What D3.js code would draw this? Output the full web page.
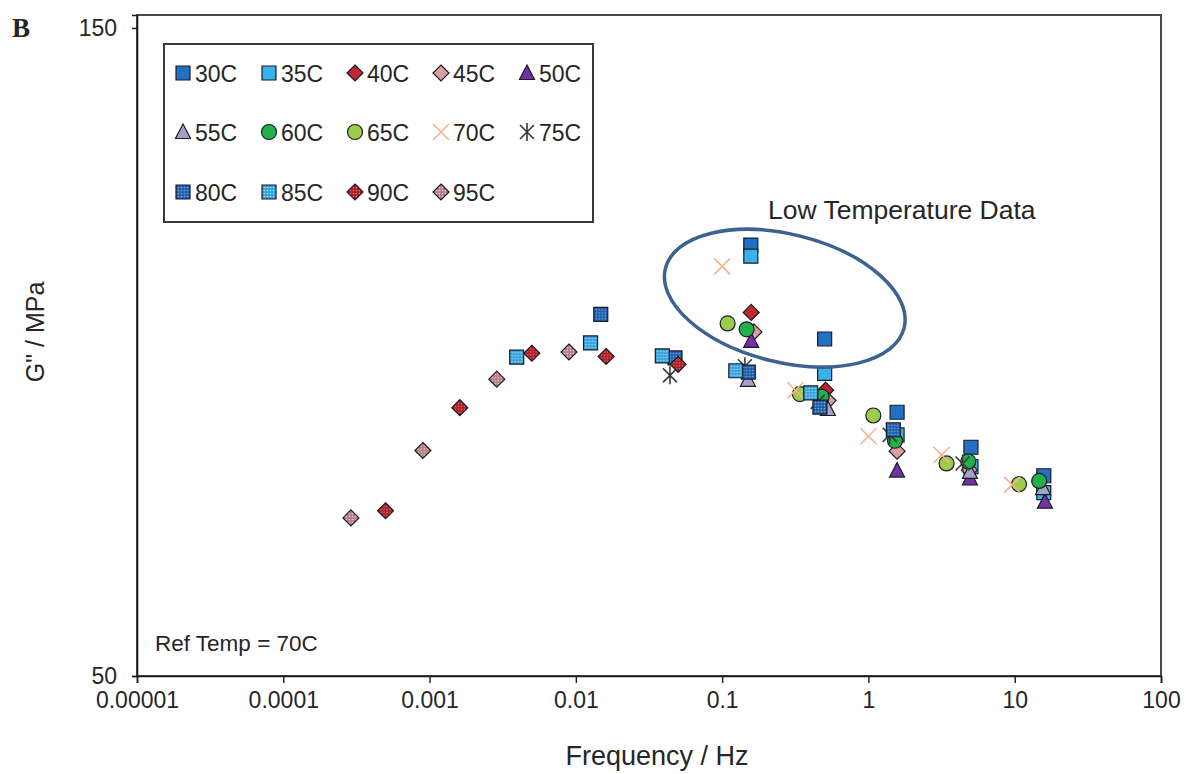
<!DOCTYPE html>
<html>
<head>
<meta charset="utf-8">
<script src="https://cdn.jsdelivr.net/npm/d3@7/dist/d3.min.js"></script>
<style>
  html, body { margin: 0; padding: 0; background: #fff; }
  svg { display: block; }
  text { font-family: "Liberation Sans", Arial, sans-serif; fill: #262626; }
</style>
</head>
<body>
<svg id="chart" width="1186" height="774"></svg>
<script>
// ---- data: frequency (Hz) and loss modulus G'' (MPa) per test temperature ----
const temps = ["30C","35C","40C","45C","50C","55C","60C","65C","70C","75C","80C","85C","90C","95C"];

const freq30 = [0.157, 0.502, 1.57, 5.02, 15.8];
const g30    = [116.5, 102.0, 90.7, 85.3, 80.9];
const freq35 = [0.157, 0.502, 1.57, 5.02, 15.8];
const g35    = [114.8, 96.7, 87.2, 82.3, 78.3];
const freq40 = [0.158, 0.51];
const g40    = [106.1, 94.1];
const freq45 = [0.165, 0.53, 1.57, 4.9];
const g45    = [103.1, 92.5, 84.7, 81.8];
const freq50 = [0.158, 1.57, 4.94, 16.1];
const g50    = [101.7, 81.7, 80.5, 76.9];
const freq55 = [0.150, 0.528, 4.94, 15.6];
const g55    = [95.7, 91.2, 81.5, 79.0];
const freq60 = [0.147, 0.479, 1.52, 4.81, 14.7];
const g60    = [103.5, 93.1, 86.3, 83.1, 80.1];
const freq65 = [0.109, 0.340, 1.08, 3.42, 10.7];
const g65    = [104.4, 93.5, 90.2, 82.8, 79.6];
const freq70 = [0.1, 0.317, 1.0, 3.16, 9.6];
const g70    = [113.2, 94.1, 87.0, 84.1, 79.5];
const freq75 = [0.044, 0.143, 0.45, 1.40, 4.4];
const g75    = [96.4, 97.8, 92.3, 87.2, 82.8];
const freq80 = [0.0148, 0.0476, 0.151, 0.466, 1.48];
const g80    = [105.8, 99.1, 96.9, 91.5, 88.0];
const freq85 = [0.00394, 0.0126, 0.039, 0.124, 0.403];
const g85    = [99.2, 101.4, 99.4, 97.1, 93.7];
const freq90 = [0.0005, 0.00161, 0.005, 0.0161, 0.05];
const g90    = [75.5, 91.4, 99.8, 99.3, 98.1];
const freq95 = [0.00029, 0.0009, 0.00288, 0.00897];
const g95    = [74.4, 84.8, 95.8, 100.0];

const xTicks = [0.00001, 0.0001, 0.001, 0.01, 0.1, 1, 10, 100];
const xTickLabels = ["0.00001", "0.0001", "0.001", "0.01", "0.1", "1", "10", "100"];
const yTicks = [50, 150];

// ---- marker look for each temperature ----
const styles = {
  "30C": { shape: "square",   fill: "#2270c4" },
  "35C": { shape: "square",   fill: "#37b2ea" },
  "40C": { shape: "diamond",  fill: "#c1272d" },
  "45C": { shape: "diamond",  fill: "#dc9ea2" },
  "50C": { shape: "triangle", fill: "#7132a3" },
  "55C": { shape: "triangle", fill: "#a3a3c4" },
  "60C": { shape: "circle",   fill: "#22b04b" },
  "65C": { shape: "circle",   fill: "#9ccc4e" },
  "70C": { shape: "cross",    stroke: "#f4b487" },
  "75C": { shape: "star",     stroke: "#3a3a3a" },
  "80C": { shape: "square",   fill: "url(#dots80)" },
  "85C": { shape: "square",   fill: "url(#dots85)" },
  "90C": { shape: "diamond",  fill: "url(#dots90)" },
  "95C": { shape: "diamond",  fill: "url(#dots95)" }
};

const seriesData = {
  "30C": [freq30, g30], "35C": [freq35, g35], "40C": [freq40, g40], "45C": [freq45, g45],
  "50C": [freq50, g50], "55C": [freq55, g55], "60C": [freq60, g60], "65C": [freq65, g65],
  "70C": [freq70, g70], "75C": [freq75, g75], "80C": [freq80, g80], "85C": [freq85, g85],
  "90C": [freq90, g90], "95C": [freq95, g95]
};

const svg = d3.select("#chart");

// ---- dotted fills for the high-temperature series ----
const defs = svg.append("defs");
function dotPattern(id, base, dot) {
  const p = defs.append("pattern").attr("id", id)
    .attr("patternUnits", "userSpaceOnUse").attr("width", 3).attr("height", 3);
  p.append("rect").attr("width", 3).attr("height", 3).attr("fill", base);
  p.append("circle").attr("cx", 1.5).attr("cy", 1.5).attr("r", 0.85).attr("fill", dot);
}
dotPattern("dots80", "#1d5aa6", "#6fb0ec");
dotPattern("dots85", "#2f9fdc", "#a8def8");
dotPattern("dots90", "#a81c22", "#e87070");
dotPattern("dots95", "#b47a7e", "#f2d0d0");

// ---- scales ----
const x = d3.scaleLog().domain([1e-5, 100]).range([137, 1161]);
const y = d3.scaleLinear().domain([50, 152]).range([676, 15]);

// plot frame
svg.append("rect")
  .attr("x", x.range()[0]).attr("y", y.range()[1])
  .attr("width", x.range()[1] - x.range()[0])
  .attr("height", y.range()[0] - y.range()[1])
  .attr("fill", "none").attr("stroke", "#4a4a4a").attr("stroke-width", 2);

// x axis
const xAxis = svg.append("g").attr("transform", `translate(0,${y.range()[0]})`)
  .call(d3.axisBottom(x).tickValues(xTicks)
    .tickFormat((d, i) => xTickLabels[i]).tickSize(7).tickPadding(9));
xAxis.select(".domain").attr("stroke", "#1a1a1a").attr("stroke-width", 1.6);
xAxis.selectAll(".tick line").attr("stroke", "#1a1a1a").attr("stroke-width", 1.4);
xAxis.selectAll(".tick text").attr("font-size", 23).attr("font-family", "Liberation Sans, Arial, sans-serif").attr("fill", "#262626");

// y axis
const yAxis = svg.append("g").attr("transform", `translate(${x.range()[0]},0)`)
  .call(d3.axisLeft(y).tickValues(yTicks).tickSize(5).tickPadding(15));
yAxis.select(".domain").attr("stroke", "#1a1a1a").attr("stroke-width", 1.6);
yAxis.selectAll(".tick line").attr("stroke", "#1a1a1a").attr("stroke-width", 1.4);
yAxis.selectAll(".tick text").attr("font-size", 23).attr("font-family", "Liberation Sans, Arial, sans-serif").attr("fill", "#262626");

// ---- marker drawing ----
function markerPath(shape) {
  switch (shape) {
    case "square":   return "M-7,-7h14v14h-14Z";
    case "diamond":  return "M0,-8L8,0L0,8L-8,0Z";
    case "triangle": return "M0,-8L7.5,6.5L-7.5,6.5Z";
    case "cross":    return "M-8,-8L8,8M8,-8L-8,8";
    case "star":     return "M-7,-7L7,7M7,-7L-7,7M0,-9V9";
  }
}
function drawMarker(g, st, cx, cy) {
  if (st.shape === "circle") {
    g.append("circle").attr("cx", cx).attr("cy", cy).attr("r", 7.5)
      .attr("fill", st.fill).attr("stroke", "#1b1b26").attr("stroke-width", 1.2);
  } else if (st.shape === "cross" || st.shape === "star") {
    g.append("path").attr("d", markerPath(st.shape))
      .attr("transform", `translate(${cx},${cy})`)
      .attr("fill", "none").attr("stroke", st.stroke).attr("stroke-width", 1.6);
  } else {
    g.append("path").attr("d", markerPath(st.shape))
      .attr("transform", `translate(${cx},${cy})`)
      .attr("fill", st.fill).attr("stroke", "#1b1b26").attr("stroke-width", 1.2);
  }
}

// data points, series drawn in temperature order
const pts = svg.append("g");
temps.forEach(t => {
  const [fs, gs] = seriesData[t];
  fs.forEach((f, i) => drawMarker(pts, styles[t], x(f), y(gs[i])));
});

// ---- "Low Temperature Data" annotation ----
const ellipseCentre = { f: 0.268, g: 108.3 };
svg.append("ellipse")
  .attr("cx", 0).attr("cy", 0).attr("rx", 123).attr("ry", 64)
  .attr("transform", `translate(${x(ellipseCentre.f)},${y(ellipseCentre.g)}) rotate(14)`)
  .attr("fill", "none").attr("stroke", "#3e6290").attr("stroke-width", 3.5);
svg.append("text").attr("x", 768).attr("y", 219)
  .attr("font-size", 26.5).text("Low Temperature Data");

// ---- legend ----
const legend = svg.append("g");
legend.append("rect").attr("x", 164).attr("y", 44).attr("width", 429).attr("height", 178)
  .attr("fill", "#fff").attr("stroke", "#3a3a3a").attr("stroke-width", 2);
const legendRows = [temps.slice(0, 5), temps.slice(5, 10), temps.slice(10)];
const rowY = [73, 132, 192];
legendRows.forEach((row, r) => {
  row.forEach((t, c) => {
    const mx = 183 + c * 86;
    drawMarker(legend, styles[t], mx, rowY[r]);
    legend.append("text").attr("x", mx + 12).attr("y", rowY[r] + 8.5)
      .attr("font-size", 23).text(t);
  });
});

// ---- titles and notes ----
svg.append("text").attr("x", 657).attr("y", 765).attr("text-anchor", "middle")
  .attr("font-size", 27).text("Frequency / Hz");
svg.append("text").attr("transform", "translate(44,332) rotate(-90)")
  .attr("text-anchor", "middle").attr("font-size", 25).text("G\" / MPa");
svg.append("text").attr("x", 155).attr("y", 651).attr("font-size", 22.5).text("Ref Temp  = 70C");
svg.append("text").attr("x", 12).attr("y", 37)
  .attr("font-family", "Liberation Serif, 'Times New Roman', serif")
  .attr("font-weight", "bold").attr("font-size", 27).style("font-family", "'Liberation Serif', serif")
  .attr("fill", "#111").text("B");
</script>
</body>
</html>
